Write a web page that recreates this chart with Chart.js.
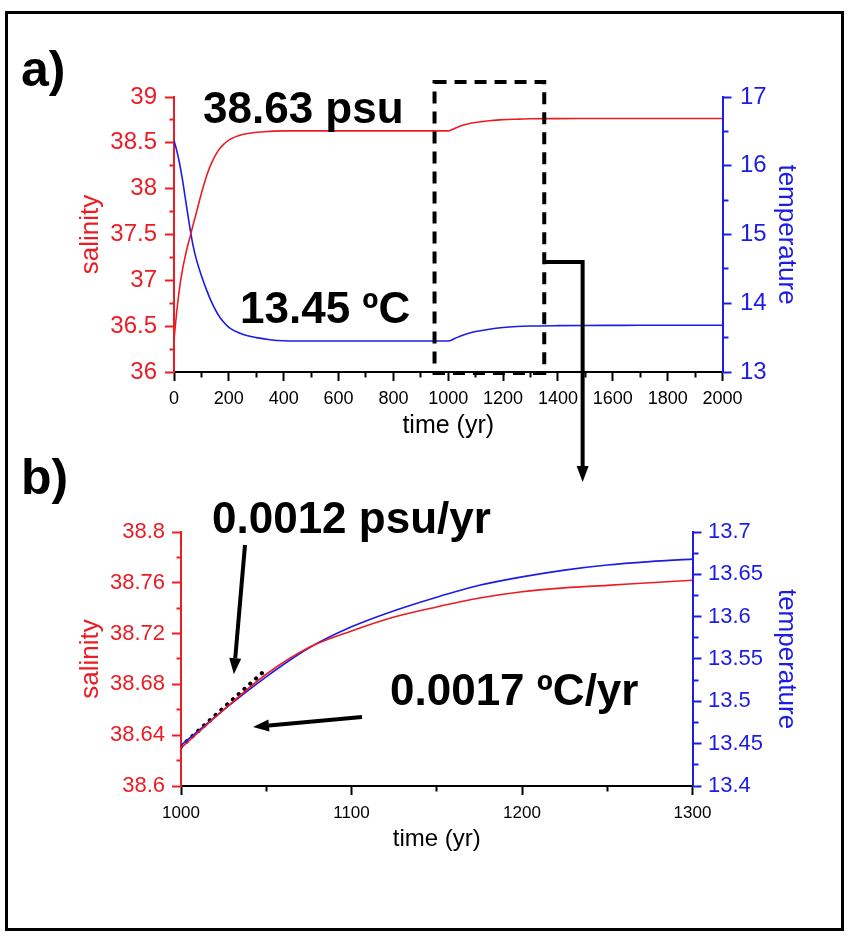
<!DOCTYPE html>
<html>
<head>
<meta charset="utf-8">
<title>Salinity and temperature</title>
<script src="https://cdn.jsdelivr.net/npm/chart.js@4"></script>
<style>
  body { margin: 0; background: #fff; }
  #wrap { position: relative; width: 849px; height: 937px; }
  canvas { position: absolute; left: 0; top: 0; }
</style>
</head>
<body>
<div id="wrap">
  <canvas id="chartA" width="849" height="937"></canvas>
  <canvas id="chartB" width="849" height="937"></canvas>
</div>
<script>
// panel a): whole run
const yearsA = [0, 10, 20, 30, 40, 50, 60, 70, 80, 100, 120, 140, 160, 180, 200, 250, 300, 350, 400,
  500, 600, 700, 800, 900, 1000, 1025, 1050, 1075, 1100, 1150, 1200, 1250, 1300,
  1400, 1500, 1600, 1700, 1800, 1900, 2000];
const salinityA = [36.35, 36.66, 36.91, 37.10, 37.25, 37.38, 37.49, 37.61, 37.72, 37.95, 38.15, 38.30, 38.41, 38.48, 38.53, 38.59, 38.615, 38.625, 38.63,
  38.63, 38.63, 38.63, 38.63, 38.63, 38.63, 38.660, 38.688, 38.709, 38.722, 38.741, 38.753, 38.758, 38.762,
  38.764, 38.765, 38.766, 38.766, 38.766, 38.766, 38.766];
const temperatureA = [16.37, 16.22, 16.04, 15.82, 15.56, 15.30, 15.05, 14.83, 14.66, 14.40, 14.18, 13.99, 13.84, 13.73, 13.65, 13.55, 13.50, 13.47, 13.455,
  13.45, 13.45, 13.45, 13.45, 13.45, 13.45, 13.490, 13.530, 13.563, 13.588, 13.623, 13.647, 13.661, 13.668,
  13.674, 13.677, 13.678, 13.679, 13.679, 13.679, 13.679];

// panel b): zoom on years 1000-1300
const yearsB = [1000, 1025, 1050, 1075, 1100, 1125, 1150, 1175, 1200, 1225, 1250, 1275, 1300];
const salinityB = [38.630, 38.660, 38.688, 38.709, 38.722, 38.733, 38.741, 38.748, 38.753, 38.756, 38.758, 38.760, 38.762];
const temperatureB = [13.448, 13.490, 13.529, 13.563, 13.588, 13.607, 13.623, 13.637, 13.647, 13.655, 13.661, 13.665, 13.668];

// dotted linear trend at the start of b)
const fitYears = [1000, 1050];
const fitSalinity = [38.631, 38.692];

const RED = '#ec1c24';
const BLUE = '#1c1ce6';
const FONT = '"Liberation Sans", Arial, sans-serif';

function xy(xs, ys) {
  return xs.map((x, i) => ({x: x, y: ys[i]}));
}

function isMajor(v, every) {
  const r = v / every;
  return Math.abs(r - Math.round(r)) < 1e-6;
}

// one axis, with minor ticks drawn half length (dash trick)
function axis(o) {
  return {
    type: 'linear',
    position: o.position,
    min: o.min,
    max: o.max,
    afterFit: s => {
      if (o.width) s.width = o.width;
      if (o.height) s.height = o.height;
    },
    border: { display: true, color: o.color, width: 2 },
    grid: {
      drawOnChartArea: false,
      drawTicks: true,
      tickLength: 9,
      tickWidth: 2,
      tickColor: o.color,
      tickBorderDash: ctx => {
        if (!ctx.tick || isMajor(ctx.tick.value, o.labelStep)) return [];
        return o.position === 'left' ? [0, 4.5, 4.5, 60] : [4.5, 60];
      }
    },
    ticks: {
      stepSize: o.step,
      autoSkip: false,
      maxRotation: 0,
      color: o.color,
      padding: o.pad,
      font: { family: FONT, size: o.size },
      callback: v => isMajor(v, o.labelStep) ? String(+v.toFixed(3)) : ''
    },
    title: {
      display: true,
      text: o.title,
      color: o.color,
      padding: 0,
      font: { family: FONT, size: o.titleSize }
    }
  };
}

function lineSet(data, color, axisId) {
  return {
    data: data,
    borderColor: color,
    borderWidth: 1.6,
    pointRadius: 0,
    fill: false,
    cubicInterpolationMode: 'monotone',
    yAxisID: axisId
  };
}

const commonOpts = {
  responsive: false,
  animation: false,
  devicePixelRatio: 1,
  plugins: { legend: { display: false }, tooltip: { enabled: false } },
  events: []
};

let chartA = new Chart(document.getElementById('chartA').getContext('2d'), {
  type: 'line',
  data: {
    datasets: [
      lineSet(xy(yearsA, salinityA), RED, 'yS'),
      lineSet(xy(yearsA, temperatureA), BLUE, 'yT')
    ]
  },
  options: Object.assign({}, commonOpts, {
    layout: { padding: { left: 75.4, right: 47.4, top: 97, bottom: 496 } },
    scales: {
      x: axis({ position: 'bottom', min: 0, max: 2000, step: 100, labelStep: 200, color: '#000',
        size: 18, pad: 7, title: 'time (yr)', titleSize: 25, height: 69 }),
      yS: axis({ position: 'left', min: 36, max: 39, step: 0.25, labelStep: 0.5, color: RED,
        size: 24, pad: 8, title: 'salinity', titleSize: 26, width: 98.6 }),
      yT: axis({ position: 'right', min: 13, max: 17, step: 0.5, labelStep: 1, color: BLUE,
        size: 24, pad: 8.5, title: 'temperature', titleSize: 26, width: 79.1 })
    }
  })
});

function arrow(c, x1, y1, x2, y2, w, len, half) {
  const a = Math.atan2(y2 - y1, x2 - x1);
  const bx = x2 - Math.cos(a) * len, by = y2 - Math.sin(a) * len;
  c.lineWidth = w;
  c.beginPath();
  c.moveTo(x1, y1);
  c.lineTo(bx, by);
  c.stroke();
  c.beginPath();
  c.moveTo(x2, y2);
  c.lineTo(bx - Math.sin(a) * half, by + Math.cos(a) * half);
  c.lineTo(bx + Math.sin(a) * half, by - Math.cos(a) * half);
  c.closePath();
  c.fill();
}

// labels, zoom box, arrows and frame
const overlay = {
  id: 'overlay',
  afterDraw(chart) {
    const c = chart.ctx;
    const xA = chartA.scales.x, tA = chartA.scales.yT;
    const xB = chart.scales.x, sB = chart.scales.yS;
    c.save();
    c.strokeStyle = '#000';
    c.fillStyle = '#000';

    c.lineWidth = 3;
    c.strokeRect(6.5, 12.5, 836, 917);

    c.font = 'bold 50px ' + FONT;
    c.fillText('a)', 21, 86);
    c.fillText('b)', 21, 494);

    c.font = 'bold 44px ' + FONT;
    c.fillText('38.63 psu', 203, 123);
    c.fillText('13.45 ºC', 240, 323);
    c.fillText('0.0012 psu/yr', 212, 533);
    c.fillText('0.0017 ºC/yr', 390, 705);

    // dashed zoom box over years 950-1350
    const bl = xA.getPixelForValue(950), br = xA.getPixelForValue(1350);
    const bt = chartA.chartArea.top - 15, bb = chartA.chartArea.bottom + 1;
    c.lineWidth = 4;
    c.setLineDash([12, 8]);
    c.strokeRect(bl, bt, br - bl, bb - bt);
    c.setLineDash([]);

    // connector to panel b)
    const cy = tA.getPixelForValue(14.6), cx = xA.getPixelForValue(1490);
    c.lineWidth = 4;
    c.beginPath();
    c.moveTo(br, cy);
    c.lineTo(cx, cy);
    c.stroke();
    arrow(c, cx, cy - 2, cx, 482, 4, 16, 6);

    // arrows in b)
    arrow(c, 245, 545, xB.getPixelForValue(1031), sB.getPixelForValue(38.688), 4, 16, 6);
    arrow(c, 362, 717, 253, 727, 4, 16, 6);
    c.restore();
  }
};

let chartB = new Chart(document.getElementById('chartB').getContext('2d'), {
  type: 'line',
  data: {
    datasets: [
      lineSet(xy(yearsB, salinityB), RED, 'yS'),
      lineSet(xy(yearsB, temperatureB), BLUE, 'yT'),
      {
        data: xy(fitYears, fitSalinity),
        borderColor: '#000',
        borderWidth: 4.2,
        borderDash: [0.1, 7.7],
        borderCapStyle: 'round',
        pointRadius: 0,
        fill: false,
        yAxisID: 'yS'
      }
    ]
  },
  options: Object.assign({}, commonOpts, {
    layout: { padding: { left: 75.4, right: 47.4, top: 532, bottom: 83.6 } },
    scales: {
      x: axis({ position: 'bottom', min: 1000, max: 1300, step: 50, labelStep: 100, color: '#000',
        size: 17, pad: 7.8, title: 'time (yr)', titleSize: 24, height: 67.4 }),
      yS: axis({ position: 'left', min: 38.6, max: 38.8, step: 0.02, labelStep: 0.04, color: RED,
        size: 22, pad: 7, title: 'salinity', titleSize: 26, width: 105.6 }),
      yT: axis({ position: 'right', min: 13.4, max: 13.7, step: 0.025, labelStep: 0.05, color: BLUE,
        size: 22, pad: 6.5, title: 'temperature', titleSize: 26, width: 109.1 })
    }
  }),
  plugins: [overlay]
});
</script>
</body>
</html>
